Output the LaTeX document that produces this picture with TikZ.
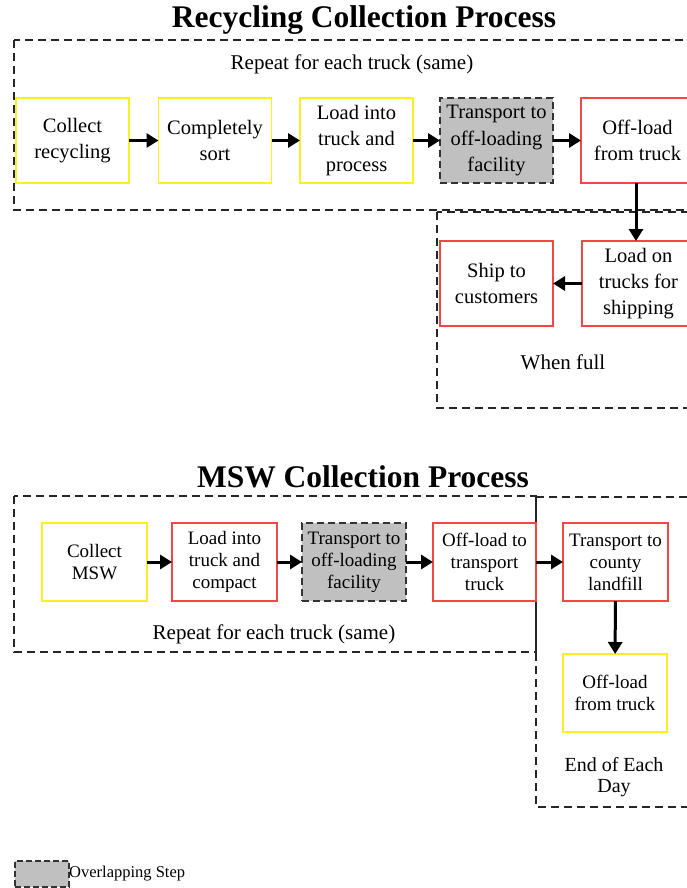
\documentclass[tikz,border=0pt]{standalone}
\usepackage{fontspec}
\setmainfont{Liberation Serif}
\usetikzlibrary{arrows.meta}
\definecolor{stepyellow}{RGB}{250,240,30}
\definecolor{stepred}{RGB}{245,70,70}
\definecolor{stepgray}{RGB}{192,192,192}
\begin{document}
\begin{tikzpicture}[x=1pt,y=-1pt,
  stepbox/.style={draw, line width=1.6pt, fill=white, align=center, inner sep=0pt, outer sep=0pt},
  ybox/.style={stepbox, draw=stepyellow},
  rbox/.style={stepbox, draw=stepred},
  gbox/.style={stepbox, draw=black!80, fill=stepgray, dash pattern=on 7pt off 4pt, line width=1.8pt},
  rowa/.style={minimum width=113pt, minimum height=85pt, font=\fontsize{20.5}{26}\selectfont},
  rowb/.style={minimum width=105pt, minimum height=78pt, font=\fontsize{19}{22}\selectfont},
  group/.style={draw=black!85, line width=1.7pt, dash pattern=on 8pt off 5pt},
  flow/.style={line width=3pt, -{Triangle[length=12pt,width=14pt]}},
  title/.style={font=\fontsize{31.5}{36}\selectfont\bfseries},
  note/.style={font=\fontsize{21}{22}\selectfont, align=center}
]
\useasboundingbox (0,0) rectangle (687,888);

% ---------- Recycling collection ----------
\node[title] (rtitle) at (364,20) {Recycling Collection Process};
\draw[group] (14,40) rectangle (705,210);
\draw[group] (437,212) rectangle (705,408);
\node[note] (rrepeat) at (352,64) {Repeat for each truck (same)};

\node[ybox, rowa] (r1) at (72.5,140.5) {Collect\\recycling};
\node[ybox, rowa] (r2) at (215,140.5) {Completely\\sort};
\node[ybox, rowa] (r3) at (356.5,140.5) {Load into\\truck and\\process};
\node[gbox, rowa] (r4) at (496.5,140.5) {Transport to\\off-loading\\facility};
\node[rbox, rowa] (r5) at (637.5,140.5) {Off-load\\from truck};
\node[rbox, rowa] (r6) at (638.5,283.5) {Load on\\trucks for\\shipping};
\node[rbox, rowa] (r7) at (496.5,283.5) {Ship to\\customers};
\node[note] (rfull) at (563,362) {When full};

\draw[flow] (r1) -- (r2);
\draw[flow] (r2) -- (r3);
\draw[flow] (r3) -- (r4);
\draw[flow] (r4) -- (r5);
\draw[flow] (r5.south -| 636,0) -- (r6.north -| 636,0);
\draw[flow] (r6) -- (r7);

% ---------- MSW collection ----------
\node[title] (mtitle) at (363,477) {MSW Collection Process};
\draw[group] (14,496) rectangle (536,652);
\draw[group] (536,497) -- (705,497);
\draw[group] (536,497) -- (536,807) -- (705,807);
\node[note] (mrepeat) at (274,634) {Repeat for each truck (same)};

\node[ybox, rowb] (m1) at (94.5,562) {Collect\\MSW};
\node[rbox, rowb] (m2) at (224.5,562) {Load into\\truck and\\compact};
\node[gbox, rowb, minimum width=104pt] (m3) at (354,562) {Transport to\\off-loading\\facility};
\node[rbox, rowb, minimum width=103pt] (m4) at (484.5,562) {Off-load to\\transport\\truck};
\node[rbox, rowb] (m5) at (615.5,562) {Transport to\\county\\landfill};
\node[ybox, rowb, minimum width=104pt] (m6) at (615,693) {Off-load\\from truck};
\node[note, font=\fontsize{20}{21}\selectfont] (mday) at (614,777) {End of Each\\Day};

\draw[flow] (m1) -- (m2);
\draw[flow] (m2) -- (m3);
\draw[flow] (m3) -- (m4);
\draw[flow] (m4) -- (m5);
\draw[flow] (m5) -- (m6);

% ---------- Legend ----------
\node[gbox, minimum width=54pt, minimum height=26pt, line width=1.5pt, dash pattern=on 6pt off 3pt] (lkey) at (42,874) {};
\node[anchor=west, inner sep=0pt, font=\fontsize{16.5}{18}\selectfont] (ltext) at (lkey.east) {Overlapping Step};
\end{tikzpicture}
\end{document}
